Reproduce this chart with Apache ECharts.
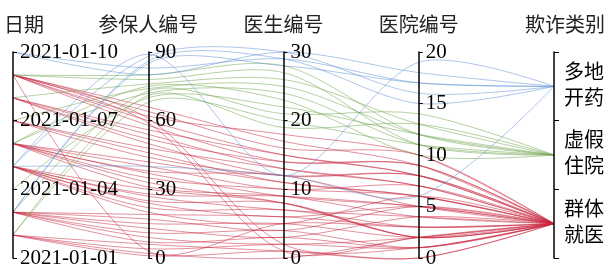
<!DOCTYPE html>
<html>
<head>
<meta charset="utf-8">
<style>
    html, body { margin: 0; padding: 0; background: #fff; }
    #main { width: 611px; height: 264px; }
</style>
<script src="https://cdn.jsdelivr.net/npm/echarts@6/dist/echarts.min.js"></script>
</head>
<body>
<div id="main"></div>
<script>
// 日期轴刻度
var dates = ['2021-01-01', '2021-01-02', '2021-01-03', '2021-01-04', '2021-01-05',
    '2021-01-06', '2021-01-07', '2021-01-08', '2021-01-09', '2021-01-10']
// 欺诈类别 (bottom -> top)
var types = ['群体就医', '虚假住院', '多地开药']

// [日期, 参保人编号, 医生编号, 医院编号, 欺诈类别]
var groupRows = [
    ['2021-01-09', 66, 17, 9, '群体就医'],
    ['2021-01-09', 64, 16, 10, '群体就医'],
    ['2021-01-09', 62, 18, 10, '群体就医'],
    ['2021-01-09', 60, 15, 8, '群体就医'],
    ['2021-01-09', 58, 14, 9, '群体就医'],
    ['2021-01-09', 61, 2, 1, '群体就医'],
    ['2021-01-09', 59, 1, 2, '群体就医'],
    ['2021-01-09', 3, 5, 3, '群体就医'],
    ['2021-01-08', 56, 15, 8, '群体就医'],
    ['2021-01-08', 54, 13, 7, '群体就医'],
    ['2021-01-08', 52, 14, 9, '群体就医'],
    ['2021-01-08', 50, 12, 8, '群体就医'],
    ['2021-01-07', 48, 13, 7, '群体就医'],
    ['2021-01-07', 46, 11, 6, '群体就医'],
    ['2021-01-07', 44, 12, 8, '群体就医'],
    ['2021-01-06', 42, 11, 6, '群体就医'],
    ['2021-01-06', 40, 10, 7, '群体就医'],
    ['2021-01-06', 38, 12, 5, '群体就医'],
    ['2021-01-06', 37, 9, 5, '群体就医'],
    ['2021-01-06', 35, 10, 6, '群体就医'],
    ['2021-01-06', 33, 8, 2, '群体就医'],
    ['2021-01-06', 31, 9, 4, '群体就医'],
    ['2021-01-05', 30, 8, 2, '群体就医'],
    ['2021-01-05', 28, 9, 5, '群体就医'],
    ['2021-01-05', 27, 7, 4, '群体就医'],
    ['2021-01-05', 25, 8, 2, '群体就医'],
    ['2021-01-05', 24, 6, 5, '群体就医'],
    ['2021-01-05', 22, 7, 3, '群体就医'],
    ['2021-01-05', 20, 5, 6, '群体就医'],
    ['2021-01-03', 19, 6, 3, '群体就医'],
    ['2021-01-03', 17, 4, 5, '群体就医'],
    ['2021-01-03', 15, 5, 2, '群体就医'],
    ['2021-01-03', 13, 3, 4, '群体就医'],
    ['2021-01-03', 11, 4, 1, '群体就医'],
    ['2021-01-03', 9, 2, 2, '群体就医'],
    ['2021-01-03', 7, 3, 1, '群体就医'],
    ['2021-01-02', 6, 1, 0, '群体就医'],
    ['2021-01-02', 4, 2, 1, '群体就医'],
    ['2021-01-02', 2, 0, 2, '群体就医'],
    ['2021-01-02', 1, 1, 0, '群体就医']
]
var fakeRows = [
    ['2021-01-09', 80, 28, 12, '虚假住院'],
    ['2021-01-09', 78, 27, 11, '虚假住院'],
    ['2021-01-08', 76, 26, 13, '虚假住院'],
    ['2021-01-07', 74, 25, 12, '虚假住院'],
    ['2021-01-06', 72, 24, 11, '虚假住院'],
    ['2021-01-06', 75, 23, 10, '虚假住院'],
    ['2021-01-04', 70, 22, 12, '虚假住院'],
    ['2021-01-03', 73, 21, 14, '虚假住院'],
    ['2021-01-02', 68, 20, 11, '虚假住院'],
    ['2021-01-02', 71, 19, 13, '虚假住院']
]
var multiRows = [
    ['2021-01-10', 80, 30, 18, '多地开药'],
    ['2021-01-10', 83, 29, 17, '多地开药'],
    ['2021-01-05', 88, 30, 16, '多地开药'],
    ['2021-01-03', 86, 29, 15, '多地开药'],
    ['2021-01-05', 89, 12, 19, '多地开药'],
    ['2021-01-05', 40, 12, 6, '多地开药'],
    ['2021-01-03', 85, 28, 17, '多地开药']
]

var chart = echarts.init(document.getElementById('main'))

var serif = '"Liberation Serif", "Noto Sans CJK SC", serif'

function lineSeries(name, rows, color) {
    return {
        name: name,
        type: 'parallel',
        smooth: true,
        silent: true,
        data: rows,
        lineStyle: {
            width: 1,
            color: color,
            opacity: 0.5
        }
    }
}

chart.setOption({
    animation: false,
    parallel: {
        left: 13,
        right: 57,
        top: 52,
        bottom: 6,
        parallelAxisDefault: {
            nameLocation: 'end',
            nameGap: 15,
            nameTextStyle: {
                color: '#222',
                fontSize: 20,
                fontFamily: serif
            },
            axisLine: {
                lineStyle: { color: '#000', width: 1.5 }
            },
            axisTick: {
                length: 4,
                lineStyle: { color: '#000', width: 1 }
            },
            axisLabel: {
                color: '#000',
                fontSize: 21,
                margin: 7,
                fontFamily: serif
            },
            splitLine: { show: false }
        }
    },
    parallelAxis: [
        {
            dim: 0,
            name: '日期',
            type: 'category',
            data: dates,
            boundaryGap: false,
            nameTextStyle: { padding: [0, 0, 0, 22] },
            axisTick: { interval: 2 },
            axisLabel: { interval: 2 }
        },
        { dim: 1, name: '参保人编号', min: 0, max: 90, interval: 30 },
        { dim: 2, name: '医生编号', min: 0, max: 30, interval: 10 },
        { dim: 3, name: '医院编号', min: 0, max: 20, interval: 5 },
        {
            dim: 4,
            name: '欺诈类别',
            type: 'category',
            data: types,
            nameTextStyle: { padding: [0, 0, 0, 22] },
            axisTick: { inside: true, length: 5 },
            axisLabel: {
                margin: 10,
                fontSize: 20,
                lineHeight: 26,
                formatter: function (v) {
                    return v.slice(0, 2) + '\n' + v.slice(2)
                }
            }
        }
    ],
    series: [
        lineSeries('群体就医', groupRows, '#c8233c'),
        lineSeries('虚假住院', fakeRows, '#6ea34a'),
        lineSeries('多地开药', multiRows, '#5b8fd3')
    ]
})
</script>
</body>
</html>
